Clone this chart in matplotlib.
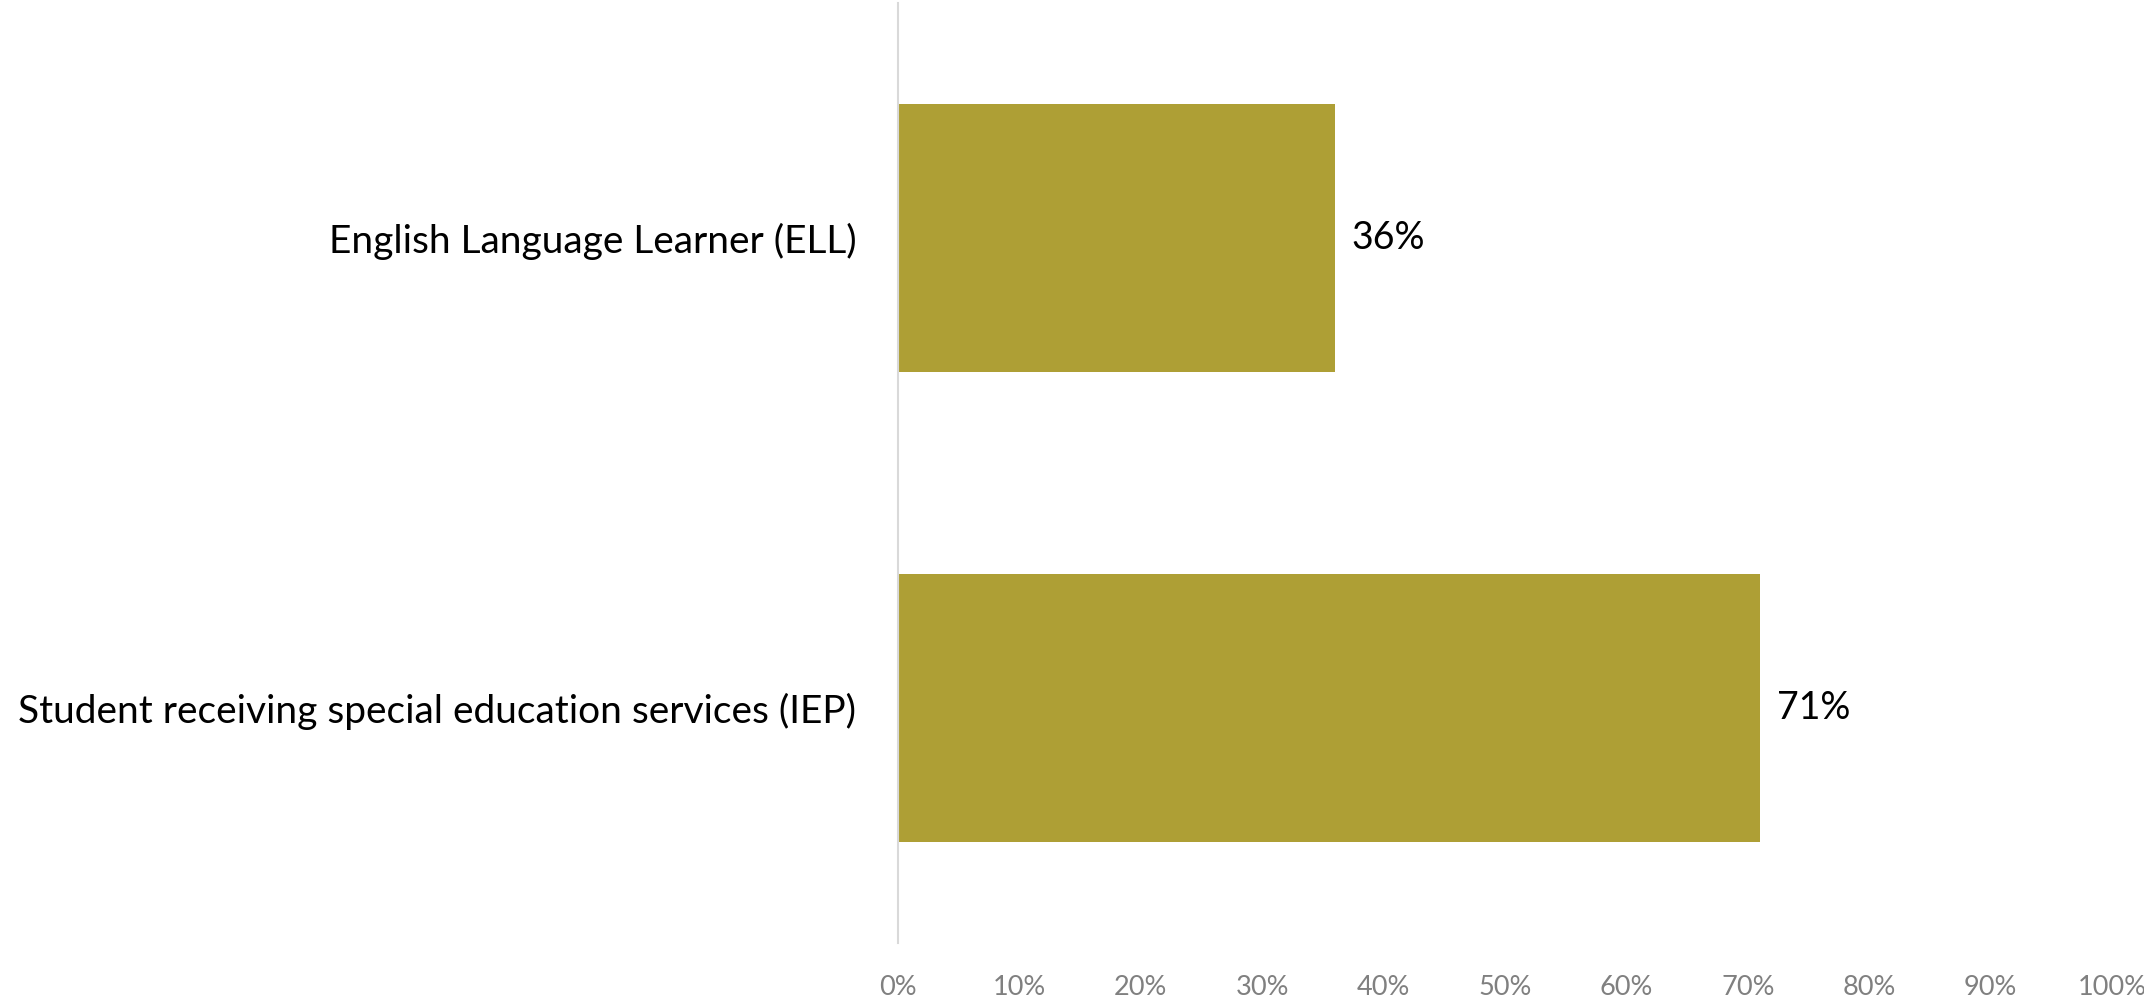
import matplotlib
matplotlib.use("Agg")
import matplotlib.pyplot as plt
from matplotlib.ticker import FuncFormatter

categories = ["English Language Learner (ELL)",
              "Student receiving special education services (IEP)"]
values = [36, 71]
xticks = [0, 10, 20, 30, 40, 50, 60, 70, 80, 90, 100]

plt.rcParams['font.family'] = ['Lato', 'DejaVu Sans']

fig = plt.figure(figsize=(21.44, 10.05), dpi=100)
ax = fig.add_axes([898/2144, 1-943/1005, (2112-898)/2144, (943-3)/1005])

pos = list(range(len(categories)))
bars = ax.barh(pos, values, height=0.572, color='#ae9f35')
ax.set_ylim(-0.5, 1.5)
ax.invert_yaxis()
ax.set_xlim(0, 100)
ax.set_xticks(xticks)
ax.xaxis.set_major_formatter(FuncFormatter(lambda v, p: f"{int(v)}%"))
ax.set_yticks(pos)
ax.set_yticklabels(categories, fontsize=28, color='black')
ax.tick_params(axis='y', length=0, pad=30)
ax.tick_params(axis='x', length=0, pad=23, labelsize=19.5, labelcolor='#808080')

for s in ['top', 'right', 'bottom']:
    ax.spines[s].set_visible(False)
ax.spines['left'].set_color('#d9d9d9')
ax.spines['left'].set_linewidth(1.5)

for b, v in zip(bars, values):
    ax.annotate(f"{v}%", xy=(b.get_width(), b.get_y() + b.get_height()/2),
                xytext=(12, 0), textcoords='offset points',
                va='center', ha='left', fontsize=27, color='black')

fig.savefig("out.png", dpi=100)
